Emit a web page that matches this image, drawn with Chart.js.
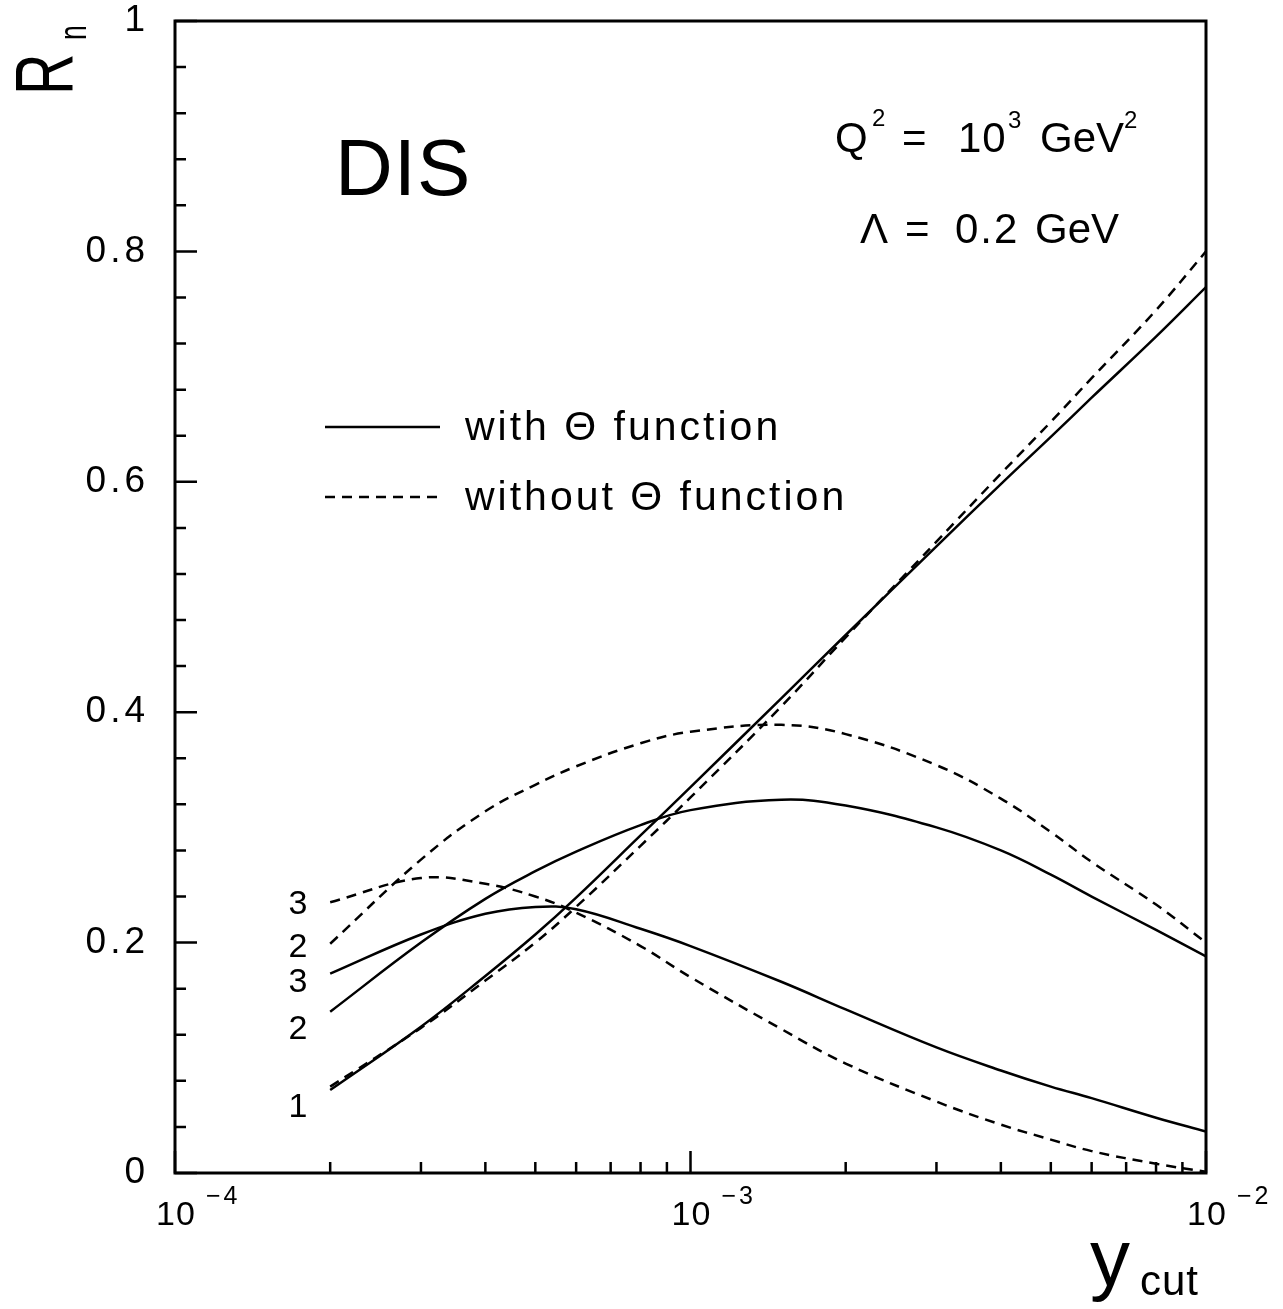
<!DOCTYPE html>
<html>
<head>
<meta charset="utf-8">
<script src="https://cdn.jsdelivr.net/npm/chart.js@4.4.1/dist/chart.umd.min.js"></script>
<style>
    html, body { margin: 0; background: #fff; }
    #wrap { width: 1283px; height: 1309px; position: relative; }
</style>
</head>
<body>
<div id="wrap"><canvas id="myChart"></canvas></div>
<script>
const yCut = [2e-4, 3e-4, 4e-4, 5e-4, 6e-4, 8e-4, 1e-3, 1.5e-3, 2e-3, 3e-3, 4e-3, 5e-3, 6e-3, 8e-3, 1e-2];

// R_n with theta function (solid)
const withTheta1 = [0.072, 0.127, 0.171, 0.207, 0.239, 0.293, 0.335, 0.412, 0.467, 0.544, 0.598, 0.639, 0.673, 0.726, 0.769];
const withTheta2 = [0.140, 0.200, 0.238, 0.262, 0.279, 0.302, 0.315, 0.324, 0.319, 0.300, 0.280, 0.259, 0.240, 0.211, 0.188];
const withTheta3 = [0.173, 0.207, 0.225, 0.231, 0.229, 0.212, 0.197, 0.166, 0.142, 0.109, 0.089, 0.075, 0.065, 0.048, 0.036];

// R_n without theta function (dashed)
const withoutTheta1 = [0.075, 0.126, 0.167, 0.200, 0.231, 0.284, 0.326, 0.405, 0.465, 0.548, 0.607, 0.652, 0.690, 0.749, 0.800];
const withoutTheta2 = [0.199, 0.272, 0.314, 0.337, 0.353, 0.373, 0.383, 0.389, 0.381, 0.354, 0.325, 0.296, 0.270, 0.233, 0.200];
const withoutTheta3 = [0.235, 0.256, 0.251, 0.240, 0.226, 0.197, 0.170, 0.125, 0.095, 0.062, 0.042, 0.029, 0.019, 0.008, 0.001];

// axis ticks
const xMajorTicks = [1e-4, 1e-3, 1e-2];
const xTickExponents = ['\u22124', '\u22123', '\u22122'];
const xMinorTicks = [2e-4, 3e-4, 4e-4, 5e-4, 6e-4, 7e-4, 8e-4, 9e-4, 2e-3, 3e-3, 4e-3, 5e-3, 6e-3, 7e-3, 8e-3, 9e-3];
const curveNumbers = ['3', '2', '3', '2', '1'];

const FONT = '"Liberation Sans", Arial, sans-serif';

const isMajorY = v => Math.abs(v / 0.2 - Math.round(v / 0.2)) < 1e-6;

const toPoints = vals => vals.map((v, i) => ({x: yCut[i], y: v}));

const line = (vals, dashed) => ({
    data: toPoints(vals),
    borderColor: '#000',
    borderWidth: 2.5,
    borderDash: dashed ? [10, 7] : [],
    pointRadius: 0,
    fill: false,
    tension: 0.4
});

const decorations = {
    id: 'decorations',
    beforeDraw(chart) {
        // wide letter spacing like the original plotting font (y tick labels)
        chart.ctx.letterSpacing = '4px';
    },
    afterDraw(chart) {
        const {ctx, chartArea: a} = chart;
        const x = chart.scales.x;
        const y = chart.scales.y;
        const text = (s, px, py, size, spacing = 0, align = 'left') => {
            ctx.font = `${size}px ${FONT}`;
            ctx.letterSpacing = spacing + 'px';
            ctx.textAlign = align;
            ctx.textBaseline = 'alphabetic';
            ctx.fillText(s, px, py);
        };

        ctx.save();
        ctx.strokeStyle = '#000';
        ctx.fillStyle = '#000';
        ctx.setLineDash([]);

        // frame
        ctx.lineWidth = 3;
        ctx.strokeRect(a.left, a.top, a.right - a.left, a.bottom - a.top);

        // inward ticks
        ctx.lineWidth = 2.5;
        ctx.beginPath();
        y.ticks.forEach(t => {
            const py = y.getPixelForValue(t.value);
            const len = isMajorY(t.value) ? 22 : 11;
            ctx.moveTo(a.left, py);
            ctx.lineTo(a.left + len, py);
        });
        xMinorTicks.forEach(v => {
            const px = x.getPixelForValue(v);
            ctx.moveTo(px, a.bottom);
            ctx.lineTo(px, a.bottom - 11);
        });
        xMajorTicks.forEach(v => {
            const px = x.getPixelForValue(v);
            ctx.moveTo(px, a.bottom);
            ctx.lineTo(px, a.bottom - 22);
        });
        ctx.stroke();

        // x tick labels 10^-n
        xMajorTicks.forEach((v, i) => {
            const px = x.getPixelForValue(v);
            text('10', px + 1, 1225, 34, 1, 'center');
            text(xTickExponents[i], px + 31, 1204, 25, 3);
        });

        // axis titles
        text('y', 1090, 1285, 80);
        text('cut', 1140, 1295, 42, 1);

        ctx.save();
        ctx.translate(72, 95);
        ctx.rotate(-Math.PI / 2);
        ctx.scale(0.7, 1);
        text('R', 0, 0, 82);
        text('n', 55 / 0.7, 14, 38);
        ctx.restore();

        // annotations
        text('DIS', 335, 195, 80, 1);

        text('Q', 835, 152, 42);
        text('2', 872, 126, 24);
        text('=', 902, 152, 42);
        text('10', 958, 152, 42, 1);
        text('3', 1008, 128, 24);
        text('GeV', 1040, 152, 42);
        text('2', 1124, 128, 24);

        text('\u039B', 860, 243, 42);
        text('=', 905, 243, 42);
        text('0.2', 955, 243, 42, 2);
        text('GeV', 1035, 243, 42);

        // legend
        ctx.lineWidth = 2.5;
        ctx.beginPath();
        ctx.moveTo(325, 427);
        ctx.lineTo(440, 427);
        ctx.stroke();
        ctx.setLineDash([10, 7]);
        ctx.beginPath();
        ctx.moveTo(325, 497);
        ctx.lineTo(440, 497);
        ctx.stroke();
        ctx.setLineDash([]);
        text('with \u0398 function', 465, 440, 41, 3);
        text('without \u0398 function', 465, 510, 41, 3);

        // curve numbers at the left ends
        const labelYs = [914, 957, 992, 1039, 1117];
        curveNumbers.forEach((s, i) => text(s, 298, labelYs[i], 34, 0, 'center'));

        ctx.restore();
    }
};

const ctx = document.getElementById('myChart');

new Chart(ctx, {
    type: 'line',
    data: {
        datasets: [
            line(withTheta1, false),
            line(withTheta2, false),
            line(withTheta3, false),
            line(withoutTheta1, true),
            line(withoutTheta2, true),
            line(withoutTheta3, true)
        ]
    },
    options: {
        responsive: true,
        maintainAspectRatio: false,
        animation: false,
        layout: {
            padding: {top: 21, right: 77, bottom: 0, left: 0}
        },
        plugins: {
            legend: {display: false},
            tooltip: {enabled: false}
        },
        scales: {
            x: {
                type: 'logarithmic',
                min: 1e-4,
                max: 1e-2,
                grid: {display: false},
                border: {display: false},
                ticks: {display: false},
                afterFit: scale => { scale.height = 136; }
            },
            y: {
                min: 0,
                max: 1,
                grid: {display: false, drawTicks: false},
                border: {display: false},
                ticks: {
                    stepSize: 0.04,
                    autoSkip: false,
                    padding: 26,
                    color: '#000',
                    font: {family: FONT, size: 37},
                    callback: value => {
                        if (!isMajorY(value)) return '';
                        if (Math.abs(value) < 1e-6) return '0';
                        if (Math.abs(value - 1) < 1e-6) return '1';
                        return value.toFixed(1);
                    }
                },
                afterFit: scale => {
                    scale.width = 175;
                    // label padding would otherwise push the plot top down
                    scale.paddingTop = 0;
                    scale.paddingBottom = 0;
                }
            }
        }
    },
    plugins: [decorations]
});
</script>
</body>
</html>
